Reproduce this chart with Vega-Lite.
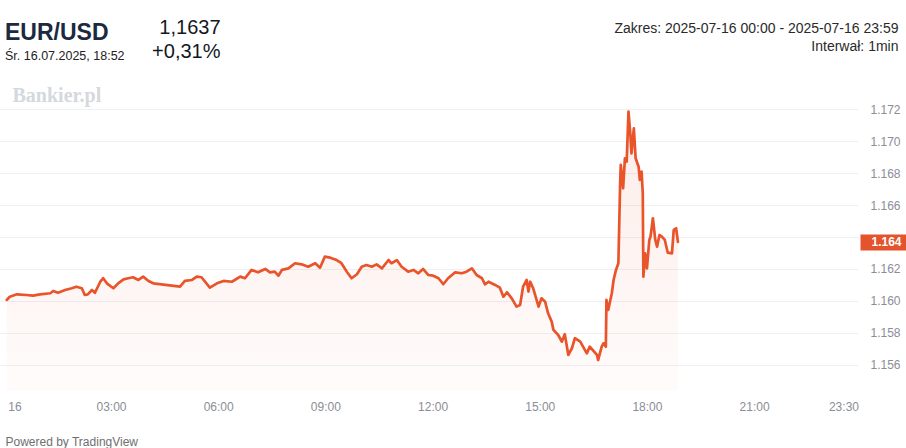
{
  "$schema": "https://vega.github.io/schema/vega-lite/v6.json",
  "width": 858,
  "height": 316,
  "autosize": {"type": "none"},
  "padding": {"left": 0, "top": 75, "right": 48, "bottom": 57},
  "background": "white",
  "config": {"view": {"stroke": null}, "font": "Liberation Sans"},
  "title": {
    "text": "EUR/USD",
    "subtitle": "Śr. 16.07.2025, 18:52",
    "anchor": "start",
    "frame": "group",
    "orient": "top",
    "font": "Liberation Sans",
    "fontSize": 23,
    "fontWeight": "bold",
    "color": "#1b2a40",
    "subtitleFont": "Liberation Sans",
    "subtitleFontSize": 12.5,
    "subtitleColor": "#222222",
    "subtitlePadding": 5,
    "offset": 0,
    "dx": 5,
    "dy": 45
  },
  "datasets": {
    "px": [
      {"t": "2025-07-16T00:05", "v": 1.16006},
      {"t": "2025-07-16T00:10", "v": 1.16026},
      {"t": "2025-07-16T00:22", "v": 1.16041},
      {"t": "2025-07-16T00:38", "v": 1.16037},
      {"t": "2025-07-16T00:49", "v": 1.16033},
      {"t": "2025-07-16T01:01", "v": 1.16041},
      {"t": "2025-07-16T01:18", "v": 1.16048},
      {"t": "2025-07-16T01:23", "v": 1.16062},
      {"t": "2025-07-16T01:31", "v": 1.16051},
      {"t": "2025-07-16T01:43", "v": 1.16068},
      {"t": "2025-07-16T01:54", "v": 1.16079},
      {"t": "2025-07-16T02:02", "v": 1.16089},
      {"t": "2025-07-16T02:11", "v": 1.16079},
      {"t": "2025-07-16T02:16", "v": 1.16037},
      {"t": "2025-07-16T02:21", "v": 1.16041},
      {"t": "2025-07-16T02:28", "v": 1.16068},
      {"t": "2025-07-16T02:33", "v": 1.16051},
      {"t": "2025-07-16T02:42", "v": 1.16120},
      {"t": "2025-07-16T02:47", "v": 1.16142},
      {"t": "2025-07-16T02:53", "v": 1.16110},
      {"t": "2025-07-16T03:04", "v": 1.16079},
      {"t": "2025-07-16T03:12", "v": 1.16110},
      {"t": "2025-07-16T03:21", "v": 1.16135},
      {"t": "2025-07-16T03:29", "v": 1.16142},
      {"t": "2025-07-16T03:37", "v": 1.16148},
      {"t": "2025-07-16T03:46", "v": 1.16131},
      {"t": "2025-07-16T03:54", "v": 1.16152},
      {"t": "2025-07-16T04:03", "v": 1.16125},
      {"t": "2025-07-16T04:11", "v": 1.16110},
      {"t": "2025-07-16T04:56", "v": 1.16089},
      {"t": "2025-07-16T05:04", "v": 1.16125},
      {"t": "2025-07-16T05:16", "v": 1.16131},
      {"t": "2025-07-16T05:24", "v": 1.16152},
      {"t": "2025-07-16T05:32", "v": 1.16148},
      {"t": "2025-07-16T05:46", "v": 1.16083},
      {"t": "2025-07-16T05:58", "v": 1.16110},
      {"t": "2025-07-16T06:09", "v": 1.16125},
      {"t": "2025-07-16T06:23", "v": 1.16120},
      {"t": "2025-07-16T06:37", "v": 1.16152},
      {"t": "2025-07-16T06:45", "v": 1.16142},
      {"t": "2025-07-16T06:56", "v": 1.16194},
      {"t": "2025-07-16T07:07", "v": 1.16179},
      {"t": "2025-07-16T07:19", "v": 1.16200},
      {"t": "2025-07-16T07:27", "v": 1.16179},
      {"t": "2025-07-16T07:35", "v": 1.16183},
      {"t": "2025-07-16T07:41", "v": 1.16158},
      {"t": "2025-07-16T07:47", "v": 1.16194},
      {"t": "2025-07-16T07:58", "v": 1.16204},
      {"t": "2025-07-16T08:09", "v": 1.16236},
      {"t": "2025-07-16T08:20", "v": 1.16229},
      {"t": "2025-07-16T08:31", "v": 1.16214},
      {"t": "2025-07-16T08:43", "v": 1.16236},
      {"t": "2025-07-16T08:51", "v": 1.16208},
      {"t": "2025-07-16T08:59", "v": 1.16277},
      {"t": "2025-07-16T09:08", "v": 1.16271},
      {"t": "2025-07-16T09:19", "v": 1.16256},
      {"t": "2025-07-16T09:27", "v": 1.16236},
      {"t": "2025-07-16T09:36", "v": 1.16183},
      {"t": "2025-07-16T09:44", "v": 1.16142},
      {"t": "2025-07-16T09:53", "v": 1.16167},
      {"t": "2025-07-16T10:01", "v": 1.16214},
      {"t": "2025-07-16T10:09", "v": 1.16225},
      {"t": "2025-07-16T10:18", "v": 1.16214},
      {"t": "2025-07-16T10:26", "v": 1.16229},
      {"t": "2025-07-16T10:35", "v": 1.16204},
      {"t": "2025-07-16T10:46", "v": 1.16256},
      {"t": "2025-07-16T10:51", "v": 1.16236},
      {"t": "2025-07-16T11:00", "v": 1.16256},
      {"t": "2025-07-16T11:08", "v": 1.16214},
      {"t": "2025-07-16T11:19", "v": 1.16183},
      {"t": "2025-07-16T11:28", "v": 1.16194},
      {"t": "2025-07-16T11:36", "v": 1.16173},
      {"t": "2025-07-16T11:44", "v": 1.16200},
      {"t": "2025-07-16T11:53", "v": 1.16162},
      {"t": "2025-07-16T12:01", "v": 1.16158},
      {"t": "2025-07-16T12:10", "v": 1.16142},
      {"t": "2025-07-16T12:18", "v": 1.16104},
      {"t": "2025-07-16T12:26", "v": 1.16142},
      {"t": "2025-07-16T12:38", "v": 1.16179},
      {"t": "2025-07-16T12:49", "v": 1.16173},
      {"t": "2025-07-16T12:57", "v": 1.16183},
      {"t": "2025-07-16T13:06", "v": 1.16204},
      {"t": "2025-07-16T13:14", "v": 1.16162},
      {"t": "2025-07-16T13:23", "v": 1.16142},
      {"t": "2025-07-16T13:28", "v": 1.16104},
      {"t": "2025-07-16T13:34", "v": 1.16120},
      {"t": "2025-07-16T13:45", "v": 1.16100},
      {"t": "2025-07-16T13:53", "v": 1.16083},
      {"t": "2025-07-16T13:59", "v": 1.16026},
      {"t": "2025-07-16T14:05", "v": 1.16054},
      {"t": "2025-07-16T14:13", "v": 1.16016},
      {"t": "2025-07-16T14:21", "v": 1.15964},
      {"t": "2025-07-16T14:27", "v": 1.15974},
      {"t": "2025-07-16T14:32", "v": 1.16089},
      {"t": "2025-07-16T14:38", "v": 1.16131},
      {"t": "2025-07-16T14:41", "v": 1.16058},
      {"t": "2025-07-16T14:44", "v": 1.16120},
      {"t": "2025-07-16T14:49", "v": 1.16079},
      {"t": "2025-07-16T14:58", "v": 1.15964},
      {"t": "2025-07-16T15:03", "v": 1.16016},
      {"t": "2025-07-16T15:09", "v": 1.15995},
      {"t": "2025-07-16T15:14", "v": 1.15922},
      {"t": "2025-07-16T15:20", "v": 1.15870},
      {"t": "2025-07-16T15:23", "v": 1.15818},
      {"t": "2025-07-16T15:31", "v": 1.15786},
      {"t": "2025-07-16T15:37", "v": 1.15744},
      {"t": "2025-07-16T15:42", "v": 1.15791},
      {"t": "2025-07-16T15:48", "v": 1.15661},
      {"t": "2025-07-16T15:54", "v": 1.15703},
      {"t": "2025-07-16T15:59", "v": 1.15766},
      {"t": "2025-07-16T16:08", "v": 1.15744},
      {"t": "2025-07-16T16:19", "v": 1.15671},
      {"t": "2025-07-16T16:24", "v": 1.15713},
      {"t": "2025-07-16T16:36", "v": 1.15661},
      {"t": "2025-07-16T16:38", "v": 1.15629},
      {"t": "2025-07-16T16:44", "v": 1.15713},
      {"t": "2025-07-16T16:47", "v": 1.15734},
      {"t": "2025-07-16T16:51", "v": 1.15713},
      {"t": "2025-07-16T16:52", "v": 1.16006},
      {"t": "2025-07-16T16:55", "v": 1.15943},
      {"t": "2025-07-16T17:01", "v": 1.16048},
      {"t": "2025-07-16T17:04", "v": 1.16131},
      {"t": "2025-07-16T17:08", "v": 1.16194},
      {"t": "2025-07-16T17:12", "v": 1.16236},
      {"t": "2025-07-16T17:15", "v": 1.16737},
      {"t": "2025-07-16T17:16", "v": 1.16852},
      {"t": "2025-07-16T17:20", "v": 1.16706},
      {"t": "2025-07-16T17:23", "v": 1.16894},
      {"t": "2025-07-16T17:26", "v": 1.16873},
      {"t": "2025-07-16T17:29", "v": 1.17186},
      {"t": "2025-07-16T17:32", "v": 1.17051},
      {"t": "2025-07-16T17:34", "v": 1.16925},
      {"t": "2025-07-16T17:38", "v": 1.17082},
      {"t": "2025-07-16T17:41", "v": 1.16894},
      {"t": "2025-07-16T17:46", "v": 1.16841},
      {"t": "2025-07-16T17:48", "v": 1.16758},
      {"t": "2025-07-16T17:51", "v": 1.16810},
      {"t": "2025-07-16T17:53", "v": 1.16675},
      {"t": "2025-07-16T17:54", "v": 1.16152},
      {"t": "2025-07-16T17:57", "v": 1.16298},
      {"t": "2025-07-16T18:00", "v": 1.16204},
      {"t": "2025-07-16T18:04", "v": 1.16382},
      {"t": "2025-07-16T18:06", "v": 1.16403},
      {"t": "2025-07-16T18:10", "v": 1.16518},
      {"t": "2025-07-16T18:14", "v": 1.16382},
      {"t": "2025-07-16T18:17", "v": 1.16340},
      {"t": "2025-07-16T18:21", "v": 1.16413},
      {"t": "2025-07-16T18:25", "v": 1.16403},
      {"t": "2025-07-16T18:30", "v": 1.16382},
      {"t": "2025-07-16T18:35", "v": 1.16302},
      {"t": "2025-07-16T18:42", "v": 1.16298},
      {"t": "2025-07-16T18:45", "v": 1.16445},
      {"t": "2025-07-16T18:49", "v": 1.16455},
      {"t": "2025-07-16T18:52", "v": 1.16370}
    ],
    "last": [{"t": "2025-07-16T18:52", "v": 1.1637}]
  },
  "layer": [
    {
      "data": {"name": "px"},
      "mark": {
        "type": "area",
        "interpolate": "linear",
        "fill": {
          "gradient": "linear",
          "x1": 0, "y1": 0, "x2": 0, "y2": 1,
          "stops": [
            {"offset": 0, "color": "rgba(233,84,43,0.11)"},
            {"offset": 1, "color": "rgba(233,84,43,0.02)"}
          ]
        }
      },
      "encoding": {
        "x": {
          "field": "t",
          "type": "temporal",
          "scale": {"domain": [
            {"year": 2025, "month": 7, "date": 15, "hours": 23, "minutes": 53, "seconds": 36},
            {"year": 2025, "month": 7, "date": 16, "hours": 23, "minutes": 54, "seconds": 25}
          ]},
          "axis": {
            "orient": "bottom",
            "values": [
              {"year": 2025, "month": 7, "date": 16, "hours": 0},
              {"year": 2025, "month": 7, "date": 16, "hours": 3},
              {"year": 2025, "month": 7, "date": 16, "hours": 6},
              {"year": 2025, "month": 7, "date": 16, "hours": 9},
              {"year": 2025, "month": 7, "date": 16, "hours": 12},
              {"year": 2025, "month": 7, "date": 16, "hours": 15},
              {"year": 2025, "month": 7, "date": 16, "hours": 18},
              {"year": 2025, "month": 7, "date": 16, "hours": 21},
              {"year": 2025, "month": 7, "date": 16, "hours": 23, "minutes": 30}
            ],
            "labelExpr": "hours(datum.value) == 0 ? '16' : timeFormat(datum.value, '%H:%M')",
            "grid": false,
            "ticks": false,
            "domain": false,
            "labelPadding": 10,
            "labelFontSize": 12,
            "labelColor": "#8a8e96",
            "labelFont": "Liberation Sans",
            "labelFlush": 5,
            "labelFlushOffset": -4,
            "labelOverlap": false,
            "title": "Powered by TradingView",
            "titleX": 5,
            "titleY": 54,
            "titleAlign": "left",
            "titleAnchor": "start",
            "titleBaseline": "alphabetic",
            "titleFont": "Liberation Sans",
            "titleFontSize": 12,
            "titleFontWeight": "normal",
            "titleColor": "#6f6f6f"
          }
        },
        "y": {
          "field": "v",
          "type": "quantitative",
          "scale": {"domain": [1.15435, 1.17416], "zero": false, "nice": false},
          "axis": {
            "orient": "right",
            "values": [1.156, 1.158, 1.16, 1.162, 1.164, 1.166, 1.168, 1.17, 1.172],
            "format": ".3f",
            "labelExpr": "abs(datum.value - 1.164) < 0.0001 ? '' : datum.label",
            "grid": true,
            "gridColor": "#eef0f3",
            "ticks": false,
            "domain": false,
            "labelPadding": 12,
            "labelFontSize": 12,
            "labelColor": "#8a8e96",
            "labelFont": "Liberation Sans",
            "title": ["Zakres: 2025-07-16 00:00 - 2025-07-16 23:59", "Interwał: 1min"],
            "titleAngle": 0,
            "titleX": 40,
            "titleY": -42.3,
            "titleAlign": "right",
            "titleBaseline": "alphabetic",
            "titleFont": "Liberation Sans",
            "titleFontSize": 14,
            "titleFontWeight": "normal",
            "titleColor": "#2a2a2a",
            "titleLineHeight": 18,
            "zindex": 0
          }
        },
        "y2": {"datum": 1.15435}
      }
    },
    {
      "data": {"name": "px"},
      "mark": {"type": "line", "color": "#e9542b", "strokeWidth": 2.7, "strokeJoin": "round", "strokeCap": "round"},
      "encoding": {
        "x": {"field": "t", "type": "temporal", "axis": null, "scale": {"domain": [
            {"year": 2025, "month": 7, "date": 15, "hours": 23, "minutes": 53, "seconds": 36},
            {"year": 2025, "month": 7, "date": 16, "hours": 23, "minutes": 54, "seconds": 25}
          ]}},
        "y": {"field": "v", "type": "quantitative", "axis": null, "scale": {"domain": [1.15435, 1.17416], "zero": false, "nice": false}}
      }
    },
    {
      "data": {"name": "last"},
      "mark": {"type": "point", "opacity": 0},
      "encoding": {
        "x": {
          "field": "t",
          "type": "temporal",
          "scale": {"domain": [
            {"year": 2025, "month": 7, "date": 15, "hours": 23, "minutes": 53, "seconds": 36},
            {"year": 2025, "month": 7, "date": 16, "hours": 23, "minutes": 54, "seconds": 25}
          ]},
          "axis": {
            "orient": "top",
            "labels": false,
            "ticks": false,
            "domain": false,
            "grid": false,
            "title": "Bankier.pl",
            "titleX": 12,
            "titleY": 26,
            "titleAlign": "left",
            "titleAnchor": "start",
            "titleBaseline": "alphabetic",
            "titleFont": "Liberation Serif",
            "titleFontSize": 20,
            "titleFontWeight": "bold",
            "titleColor": "#d5d8dd"
          }
        },
        "y": {
          "field": "v",
          "type": "quantitative",
          "scale": {"domain": [1.15435, 1.17416], "zero": false, "nice": false},
          "axis": {
            "orient": "right",
            "values": [1.1637],
            "format": ".3f",
            "offset": 2,
            "ticks": true,
            "tickSize": 46,
            "tickWidth": 16,
            "tickColor": "#e4532b",
            "tickCap": "butt",
            "domain": false,
            "grid": false,
            "labelColor": "#ffffff",
            "labelFontWeight": "bold",
            "labelFontSize": 12,
            "labelFont": "Liberation Sans",
            "labelPadding": -35,
            "title": ["1,1637", "+0,31%"],
            "titleAngle": 0,
            "titleX": -640,
            "titleY": -42,
            "titleAlign": "right",
            "titleBaseline": "alphabetic",
            "titleFont": "Liberation Sans",
            "titleFontSize": 20,
            "titleFontWeight": "normal",
            "titleColor": "#131722",
            "titleLineHeight": 24,
            "zindex": 2
          }
        }
      }
    }
  ],
  "resolve": {"axis": {"x": "independent", "y": "independent"}}
}
